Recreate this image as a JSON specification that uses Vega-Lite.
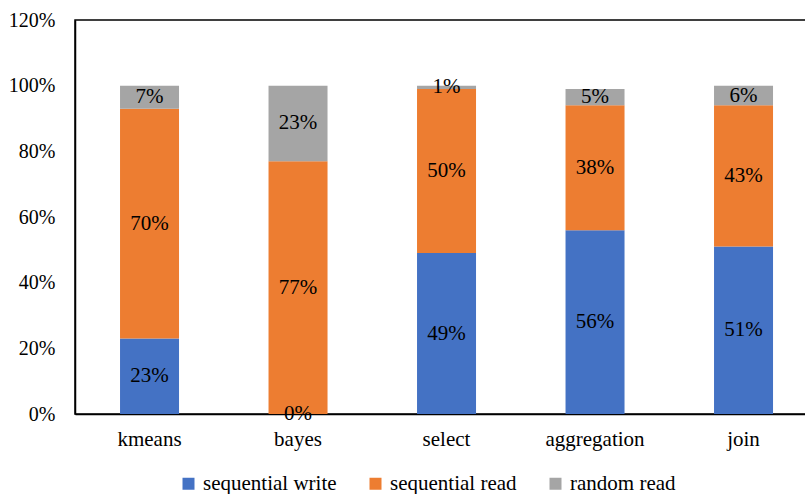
{
  "$schema": "https://vega.github.io/schema/vega-lite/v6.json",
  "width": 732,
  "height": 394,
  "autosize": {"type": "none"},
  "padding": {"left": 75, "top": 20, "right": 0, "bottom": 80},
  "background": "white",
  "config": {
    "font": "Liberation Serif",
    "view": {"stroke": "#000000", "strokeWidth": 1.5},
    "legend": {"labelFont": "Liberation Serif"},
    "axis": {"labelFont": "Liberation Serif"},
    "text": {"font": "Liberation Serif"}
  },
  "data": {
    "values": [
      {"workload": "kmeans", "type": "sequential write", "k": 1, "value": 0.23},
      {"workload": "kmeans", "type": "sequential read", "k": 2, "value": 0.70},
      {"workload": "kmeans", "type": "random read", "k": 3, "value": 0.07},
      {"workload": "bayes", "type": "sequential write", "k": 1, "value": 0.0},
      {"workload": "bayes", "type": "sequential read", "k": 2, "value": 0.77},
      {"workload": "bayes", "type": "random read", "k": 3, "value": 0.23},
      {"workload": "select", "type": "sequential write", "k": 1, "value": 0.49},
      {"workload": "select", "type": "sequential read", "k": 2, "value": 0.50},
      {"workload": "select", "type": "random read", "k": 3, "value": 0.01},
      {"workload": "aggregation", "type": "sequential write", "k": 1, "value": 0.56},
      {"workload": "aggregation", "type": "sequential read", "k": 2, "value": 0.38},
      {"workload": "aggregation", "type": "random read", "k": 3, "value": 0.05},
      {"workload": "join", "type": "sequential write", "k": 1, "value": 0.51},
      {"workload": "join", "type": "sequential read", "k": 2, "value": 0.43},
      {"workload": "join", "type": "random read", "k": 3, "value": 0.06}
    ]
  },
  "transform": [
    {"stack": "value", "groupby": ["workload"], "sort": [{"field": "k", "order": "ascending"}], "as": ["v0", "v1"]},
    {"calculate": "(datum.v0 + datum.v1) / 2", "as": "mid"}
  ],
  "encoding": {
    "x": {
      "field": "workload",
      "type": "nominal",
      "sort": ["kmeans", "bayes", "select", "aggregation", "join"],
      "scale": {"paddingInner": 0.6027, "paddingOuter": 0.266, "align": 0.57},
      "axis": {
        "title": null,
        "labelAngle": 0,
        "labelFont": "Liberation Serif",
        "labelFontSize": 21,
        "labelColor": "#000000",
        "ticks": false,
        "labelPadding": 14,
        "domainColor": "#000000",
        "domainWidth": 1.5
      }
    }
  },
  "layer": [
    {
      "mark": {"type": "bar"},
      "encoding": {
        "y": {
          "field": "v0",
          "type": "quantitative",
          "scale": {"domain": [0, 1.2], "nice": false},
          "axis": {
            "title": null,
            "values": [0, 0.2, 0.4, 0.6, 0.8, 1.0, 1.2],
            "format": ".0%",
            "labelFont": "Liberation Serif",
            "labelFontSize": 20,
            "labelColor": "#000000",
            "ticks": false,
            "grid": false,
            "labelPadding": 20,
            "domainColor": "#000000",
            "domainWidth": 1.5
          }
        },
        "y2": {"field": "v1"},
        "color": {
          "field": "type",
          "type": "nominal",
          "scale": {
            "domain": ["sequential write", "sequential read", "random read"],
            "range": ["#4472C4", "#ED7D31", "#A5A5A5"]
          },
          "legend": {
            "title": null,
            "orient": "none",
            "legendX": 103,
            "legendY": 453,
            "direction": "horizontal",
            "symbolType": "square",
            "symbolSize": 144,
            "symbolStrokeWidth": 0,
            "labelFont": "Liberation Serif",
            "labelFontSize": 21,
            "labelColor": "#000000",
            "labelOffset": 4,
            "columnPadding": 28,
            "padding": 0
          }
        }
      }
    },
    {
      "mark": {"type": "text", "font": "Liberation Serif", "fontSize": 21, "color": "#000000", "baseline": "middle"},
      "encoding": {
        "y": {"field": "mid", "type": "quantitative"},
        "text": {"field": "value", "type": "quantitative", "format": ".0%"}
      }
    }
  ]
}
